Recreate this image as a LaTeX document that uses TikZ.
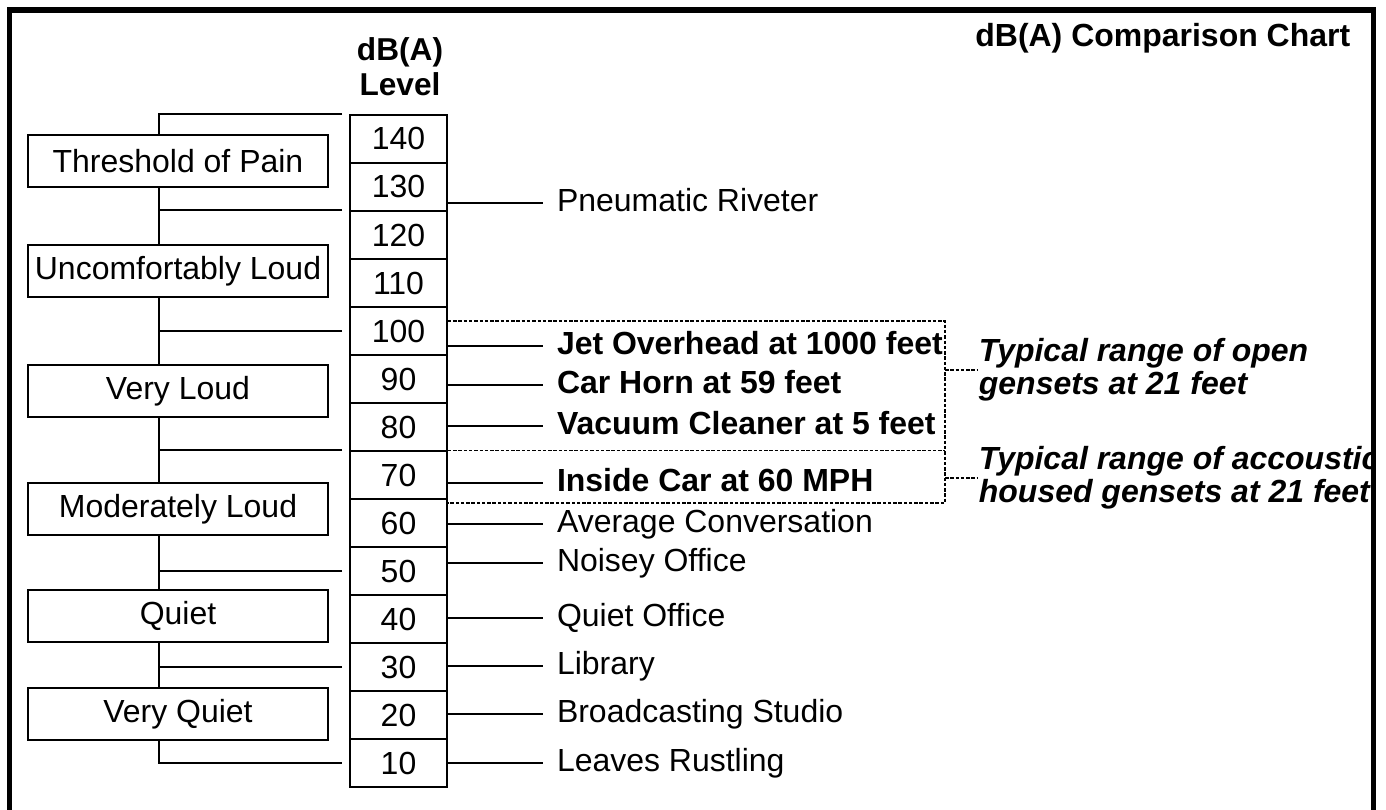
\documentclass[tikz,border=0pt]{standalone}
\usepackage{fontspec}
\setmainfont{Liberation Sans}
\usepackage{tikz}
\usetikzlibrary{shapes,positioning}
\tikzset{lvl/.style={draw,minimum width=1.94cm,minimum height=0.96cm,inner sep=0pt}}
\tikzset{cat/.style={draw,minimum width=6cm,minimum height=1.04cm,inner sep=0pt}}
\tikzset{src/.style={anchor=west,inner sep=0pt,outer xsep=0.28cm,text height=0.46cm,text depth=0.13cm}}
\tikzset{srcb/.style={src,font=\fontsize{18.2}{19}\selectfont\bfseries}}
\tikzset{typ/.style={anchor=west,align=left,inner sep=0pt,font=\fontsize{18.2}{18.8}\selectfont\bfseries\itshape}}
\tikzset{rng/.style={line width=0.6pt,dash pattern=on 2pt off 1pt}}

\begin{document}
\begin{tikzpicture}[line width=1pt,font=\fontsize{18.2}{19}\selectfont]
    \useasboundingbox (0,0) rectangle (27.72,16.2);

    \node[anchor=east,font=\fontsize{18.2}{19}\selectfont\bfseries] (ttl) at (27.14,15.44) {dB(A) Comparison Chart};
    \node[align=center,font=\fontsize{18}{20}\selectfont\bfseries] (hd) at (8,14.86) {dB(A)\\Level};

    \node[lvl] (l140) at (7.97,13.42) {140};
    \node[lvl] (l130) at (7.97,12.46) {130};
    \node[lvl] (l120) at (7.97,11.50) {120};
    \node[lvl] (l110) at (7.97,10.54) {110};
    \node[lvl] (l100) at (7.97,9.58) {100};
    \node[lvl] (l90) at (7.97,8.62) {90};
    \node[lvl] (l80) at (7.97,7.66) {80};
    \node[lvl] (l70) at (7.97,6.70) {70};
    \node[lvl] (l60) at (7.97,5.74) {60};
    \node[lvl] (l50) at (7.97,4.78) {50};
    \node[lvl] (l40) at (7.97,3.82) {40};
    \node[lvl] (l30) at (7.97,2.86) {30};
    \node[lvl] (l20) at (7.97,1.90) {20};
    \node[lvl] (l10) at (7.97,0.94) {10};

    \node[cat] (tp) at (3.56,12.98) {Threshold of Pain};
    \node[cat] (ul) at (3.56,10.78) {Uncomfortably Loud};
    \node[cat] (vl) at (3.56,8.38) {Very Loud};
    \node[cat] (ml) at (3.56,6.02) {Moderately Loud};
    \node[cat] (qt) at (3.56,3.88) {Quiet};
    \node[cat] (vq) at (3.56,1.92) {Very Quiet};

    % trunk on the left
    \coordinate (t) at (3.18,0);
    \draw [] ([xshift=-0.14cm]l140.north west) to [] (l140.north west -| t) to [] (tp.north -| t);
    \draw [] (tp.south -| t) to [] (ul.north -| t);
    \draw [] ([xshift=-0.14cm]l120.north west) to [] (l120.north west -| t);
    \draw [] (ul.south -| t) to [] (vl.north -| t);
    \draw [] ([xshift=-0.14cm]l100.west) to [] (l100.west -| t);
    \draw [] (vl.south -| t) to [] (ml.north -| t);
    \draw [] ([xshift=-0.14cm]l70.north west) to [] (l70.north west -| t);
    \draw [] (ml.south -| t) to [] (qt.north -| t);
    \draw [] ([xshift=-0.14cm]l50.west) to [] (l50.west -| t);
    \draw [] (qt.south -| t) to [] (vq.north -| t);
    \draw [] ([xshift=-0.14cm]l30.west) to [] (l30.west -| t);
    \draw [] (vq.south -| t) to [] (l10.west -| t) to [] ([xshift=-0.14cm]l10.west);

    % sources on the right
    \node[src] (pr) at (10.86,12.14) {Pneumatic Riveter};
    \node[srcb] (jo) at (10.86,9.28) {Jet Overhead at 1000 feet};
    \node[srcb] (ch) at (10.86,8.50) {Car Horn at 59 feet};
    \node[srcb] (vc) at (10.86,7.68) {Vacuum Cleaner at 5 feet};
    \node[srcb] (ic) at (10.86,6.54) {Inside Car at 60 MPH};
    \node[src] (ac) at (10.86,5.72) {Average Conversation};
    \node[src] (no) at (10.86,4.94) {Noisey Office};
    \node[src] (qo) at (10.86,3.84) {Quiet Office};
    \node[src] (lb) at (10.86,2.88) {Library};
    \node[src] (bs) at (10.86,1.92) {Broadcasting Studio};
    \node[src] (lr) at (10.86,0.94) {Leaves Rustling};

    \draw [] (l130.east |- pr.west) to [] (pr.west);
    \draw [] (l100.east |- jo.west) to [] (jo.west);
    \draw [] (l90.east |- ch.west) to [] (ch.west);
    \draw [] (l80.east |- vc.west) to [] (vc.west);
    \draw [] (l70.east |- ic.west) to [] (ic.west);
    \draw [] (l60.east |- ac.west) to [] (ac.west);
    \draw [] (l50.east |- no.west) to [] (no.west);
    \draw [] (l40.east |- qo.west) to [] (qo.west);
    \draw [] (l30.east |- lb.west) to [] (lb.west);
    \draw [] (l20.east |- bs.west) to [] (bs.west);
    \draw [] (l10.east |- lr.west) to [] (lr.west);

    % genset ranges
    \coordinate (ra) at (18.9,9.78);
    \coordinate (rb) at (18.9,6.14);
    \draw [rng] (l100.east |- ra) to [] (ra) to [] (rb) to [] (l60.east |- rb);
    \draw [rng] (l70.north east) to [] (l70.north east -| ra);
    \begin{scope}
        \clip (0,0) rectangle (27.42,16.2);
        \node[typ] (to) at (19.56,8.80) {Typical range of open\\gensets at 21 feet};
        \node[typ] (ta) at (19.56,6.64) {Typical range of accoustic\\housed gensets at 21 feet};
    \end{scope}
    \draw [rng] (to.west -| ra) to [] (to.west);
    \draw [rng] (ta.west -| ra) to [] (ta.west);

    \draw [line width=3.2pt] (0.19,0) -- (0.19,16) -- (27.47,16) -- (27.47,0);
\end{tikzpicture}
\end{document}
